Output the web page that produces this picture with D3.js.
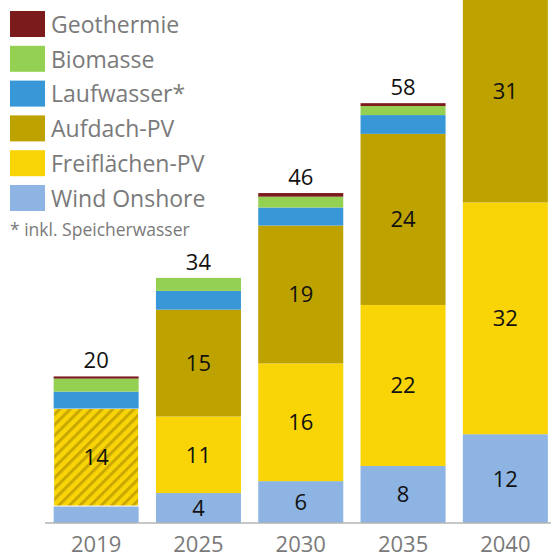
<!DOCTYPE html>
<html><head><meta charset="utf-8">
<script src="https://cdn.jsdelivr.net/npm/d3@7"></script>
<style>body{margin:0;background:#fff} svg{display:block}</style>
</head><body><svg id="c" width="551" height="557"></svg>
<script>
const years = ["2019", "2025", "2030", "2035", "2040"];
const seriesNames = ["Wind Onshore", "Freiflächen-PV", "Aufdach-PV", "Laufwasser*", "Biomasse", "Geothermie"];
const windOnshore    = [2.35, 4.15, 5.8, 7.9, 12.3];
const freiflaechenPV = [13.5, 10.6, 16.3, 22.3, 32.1]; // 2019: PV gesamt (schraffiert)
const aufdachPV      = [0, 14.8, 19.1, 23.7, 30.8];
const laufwasser     = [2.35, 2.6, 2.5, 2.6, 2.6];
const biomasse       = [1.8, 1.8, 1.5, 1.25, 1.2];
const geothermie     = [0.3, 0, 0.5, 0.4, 0.4];
const colors = ["#8db4e2", "#f9d406", "#bea200", "#3797d7", "#94d152", "#7b1b1b"];
const footnote = "* inkl. Speicherwasser";

const seriesValues = [windOnshore, freiflaechenPV, aufdachPV, laufwasser, biomasse, geothermie];
const rows = years.map((yr, i) => {
  const r = {year: yr};
  seriesNames.forEach((s, k) => r[s] = seriesValues[k][i]);
  return r;
});
const stacked = d3.stack().keys(seriesNames)(rows);

const svg = d3.select("#c");
const font = "'Open Sans', 'Noto Sans', sans-serif";

const x = d3.scaleBand().domain(years).range([45, 556.5]).paddingInner(0.169).paddingOuter(0.0845);
const y = d3.scaleLinear().domain([0, 72.44]).range([523, 0]);

// hatch pattern for 2019 PV total
const defs = svg.append("defs");
const pat = defs.append("pattern").attr("id", "hatch").attr("patternUnits", "userSpaceOnUse")
  .attr("width", 7.5).attr("height", 7.5).attr("patternTransform", "rotate(45)");
pat.append("rect").attr("width", 7.5).attr("height", 7.5).attr("fill", colors[1]);
pat.append("rect").attr("x", 0).attr("width", 3).attr("height", 7.5).attr("fill", "#c9a802");

const g = svg.append("g");
stacked.forEach((layer, k) => {
  g.selectAll(null).data(layer).join("rect")
    .attr("x", d => x(d.data.year))
    .attr("width", x.bandwidth())
    .attr("y", d => y(d[1]))
    .attr("height", d => Math.max(0, y(d[0]) - y(d[1])))
    .attr("fill", d => (k === 1 && d.data.year === "2019") ? "url(#hatch)" : colors[k])
    .attr("stroke", d => (k === 1 && d.data.year === "2019") ? "#fff" : "none")
    .attr("stroke-width", 1);
});

// segment labels
const labelled = [0, 1, 2];
labelled.forEach(k => {
  g.selectAll(null).data(stacked[k].filter(d => d[1] - d[0] >= 3)).join("text")
    .attr("x", d => x(d.data.year) + x.bandwidth() / 2)
    .attr("y", d => (y(d[0]) + y(d[1])) / 2)
    .attr("dy", "0.36em")
    .attr("text-anchor", "middle")
    .attr("font-family", font).attr("font-size", 22).attr("fill", "#111")
    .text(d => Math.round(d[1] - d[0]));
});

// totals (only those inside the visible area)
const topLayer = stacked[stacked.length - 1];
g.selectAll(null).data(topLayer.filter(d => y(d[1]) > 40)).join("text")
  .attr("x", d => x(d.data.year) + x.bandwidth() / 2)
  .attr("y", d => y(d[1]) - 8)
  .attr("text-anchor", "middle")
  .attr("font-family", font).attr("font-size", 22).attr("fill", "#111")
  .text(d => Math.round(d[1]));

// x axis
const xAxis = svg.append("g").attr("transform", "translate(0,523)")
  .call(d3.axisBottom(x).tickSize(0).tickPadding(13));
xAxis.select(".domain").attr("d", "M45,0H551").attr("stroke", "#b4b4b4").attr("stroke-width", 1.5);
xAxis.selectAll("text").attr("font-family", font).attr("font-size", 22).attr("fill", "#7a7a7a");

// legend
const legend = svg.append("g");
const legendOrder = seriesNames.map((s, k) => ({name: s, color: colors[k]})).reverse();
const li = legend.selectAll("g").data(legendOrder).join("g")
  .attr("transform", (d, i) => `translate(10,${11 + i * 34.8})`);
li.append("rect").attr("width", 35).attr("height", 26).attr("fill", d => d.color);
li.append("text").attr("x", 41).attr("y", 13).attr("dy", "0.38em")
  .attr("font-family", font).attr("font-size", 23).attr("fill", "#7a7a7a")
  .text(d => d.name);
legend.append("text").attr("x", 10).attr("y", 236)
  .attr("font-family", font).attr("font-size", 17.5).attr("fill", "#7a7a7a")
  .text(footnote);
</script></body></html>
